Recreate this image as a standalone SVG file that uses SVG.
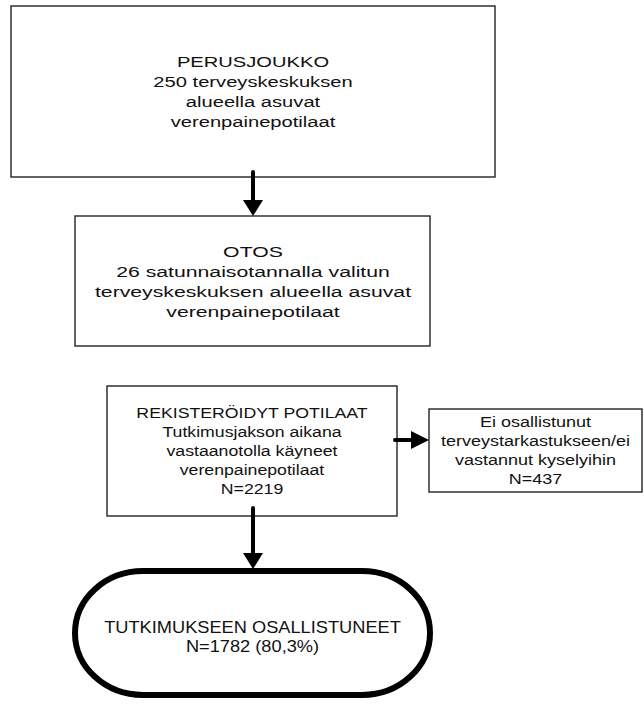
<svg xmlns="http://www.w3.org/2000/svg" width="644" height="704" viewBox="0 0 644 704">
<defs>
<style>
.box{fill:#fff;stroke:#222;stroke-width:1.4}
.t{font-family:"Liberation Sans",Arial,sans-serif;fill:#111;text-anchor:middle}
.t1{font-size:15.5px}
.t3{font-size:15px}
.t5{font-size:16px}
.sh{stroke:#000;stroke-width:4;stroke-linecap:round;fill:none}
.hd{fill:#000}
</style>
</defs>
<rect width="644" height="704" fill="#fff"/>
<g id="perusjoukko">
<rect class="box" x="11" y="6" width="484" height="171"/>
<g transform="translate(253 0) scale(1.3 1)">
<text class="t t1" x="0" y="67">PERUSJOUKKO</text>
<text class="t t1" x="0" y="87">250 terveyskeskuksen</text>
<text class="t t1" x="0" y="107">alueella asuvat</text>
<text class="t t1" x="0" y="127">verenpainepotilaat</text>
</g>
</g>
<g id="otos">
<rect class="box" x="75" y="216" width="355" height="130"/>
<g transform="translate(253 0) scale(1.37 1)">
<text class="t t1" x="0" y="257">OTOS</text>
<text class="t t1" x="0" y="277">26 satunnaisotannalla valitun</text>
<text class="t t1" x="0" y="297">terveyskeskuksen alueella asuvat</text>
<text class="t t1" x="0" y="317">verenpainepotilaat</text>
</g>
</g>
<g id="rekisteroidyt">
<rect class="box" x="107" y="386" width="290" height="130"/>
<g transform="translate(252 0) scale(1.18 1)">
<text class="t t3" x="0" y="418">REKISTERÖIDYT POTILAAT</text>
<text class="t t3" x="0" y="437">Tutkimusjakson aikana</text>
<text class="t t3" x="0" y="456">vastaanotolla käyneet</text>
<text class="t t3" x="0" y="475">verenpainepotilaat</text>
<text class="t t3" x="0" y="494">N=2219</text>
</g>
</g>
<g id="ei-osallistunut">
<rect class="box" x="429" y="409" width="213" height="83"/>
<g transform="translate(535.5 0) scale(1.2 1)">
<text class="t t3" x="0" y="427">Ei osallistunut</text>
<text class="t t3" x="0" y="446">terveystarkastukseen/ei</text>
<text class="t t3" x="0" y="465">vastannut kyselyihin</text>
<text class="t t3" x="0" y="484">N=437</text>
</g>
</g>
<g id="osallistuneet">
<rect x="75" y="571" width="355" height="124" rx="68" ry="62" fill="#fff" stroke="#000" stroke-width="6"/>
<g transform="translate(252.5 0) scale(1.14 1)">
<text class="t t5" x="0" y="633">TUTKIMUKSEEN OSALLISTUNEET</text>
<text class="t t5" x="0" y="652">N=1782 (80,3%)</text>
</g>
</g>
<g id="connectors">
<line class="sh" x1="253" y1="172" x2="253" y2="202"/>
<polygon class="hd" points="243,200 263,200 253,216"/>
<line class="sh" x1="395" y1="440" x2="414" y2="440"/>
<polygon class="hd" points="411,431 411,449 429,440"/>
<line class="sh" x1="253" y1="508" x2="253" y2="555"/>
<polygon class="hd" points="243,553 263,553 253,569"/>
</g>
</svg>
